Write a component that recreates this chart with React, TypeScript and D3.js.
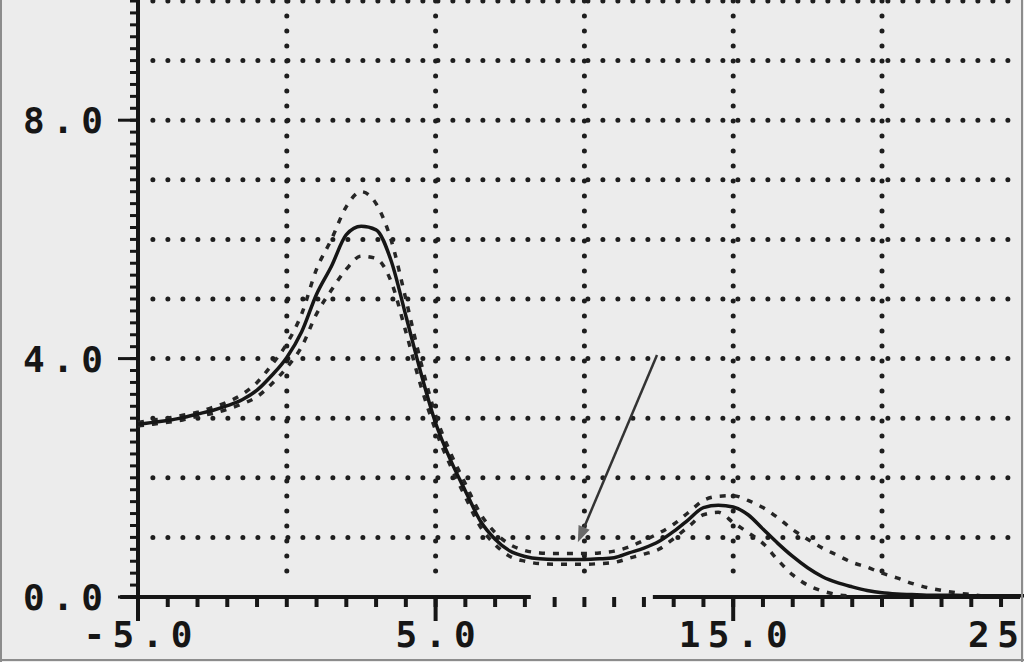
import React, { useEffect, useRef } from 'react';
import * as d3 from 'd3';

// sample positions (x units), every 0.5 from -5 to 25
const xs = d3.range(-5, 25.01, 0.5);

// solid fitted curve
const fitValues = [
  2.90, 2.93, 2.96, 3.01, 3.07, 3.13, 3.21, 3.31, 3.47, 3.72,
  4.02, 4.45, 5.08, 5.55, 6.08, 6.22, 6.16, 5.65, 4.72, 3.77,
  2.92, 2.30, 1.78, 1.28, 0.97, 0.77, 0.68, 0.64, 0.63, 0.63,
  0.63, 0.64, 0.66, 0.74, 0.82, 0.93, 1.10, 1.30, 1.50, 1.54,
  1.51, 1.38, 1.14, 0.90, 0.68, 0.49, 0.34, 0.24, 0.17, 0.11,
  0.07, 0.05, 0.04, 0.03, 0.03, 0.03, 0.02, 0.02, 0.02, 0.02, 0.02,
];

// measured points, upper scatter band (dashes)
const upperValues = [
  2.93, 2.97, 3.00, 3.05, 3.10, 3.18, 3.27, 3.40, 3.60, 3.90,
  4.25, 4.75, 5.50, 6.00, 6.55, 6.80, 6.60, 6.00, 5.00, 3.95,
  3.05, 2.42, 1.90, 1.40, 1.08, 0.88, 0.78, 0.74, 0.73, 0.73,
  0.73, 0.74, 0.77, 0.84, 0.95, 1.07, 1.22, 1.42, 1.62, 1.69,
  1.70, 1.62, 1.50, 1.33, 1.13, 0.97, 0.82, 0.70, 0.58, 0.50,
  0.40, 0.32, 0.23, 0.16, 0.11, 0.07, 0.04, 0.01, null, null, null,
];

// measured points, lower scatter band (dashes)
const lowerValues = [
  2.87, 2.90, 2.93, 2.97, 3.03, 3.08, 3.15, 3.24, 3.36, 3.58,
  3.85, 4.20, 4.75, 5.15, 5.50, 5.72, 5.68, 5.30, 4.45, 3.55,
  2.80, 2.20, 1.68, 1.18, 0.88, 0.68, 0.60, 0.56, 0.55, 0.55,
  0.55, 0.56, 0.58, 0.65, 0.72, 0.80, 0.98, 1.18, 1.38, 1.42,
  1.25, 1.08, 0.90, 0.62, 0.37, 0.20, 0.10, 0.04, 0.01, null,
  null, null, null, null, null, null, null, null, null, null, null,
];

const xTickValues = [-5, 5, 15, 25];
const xTickLabels = ['-5.0', '5.0', '15.0', '25'];
const yTickLabels = [0, 4, 8];
const xGridValues = [0, 5, 10, 15, 20];
const yGridValues = d3.range(1, 11);
// x-axis line is broken in the original print between these values
const xAxisSegments = [[-5.6, 8.2], [12.3, 25]];

// arrow pointing at the valley: [tailX, tailY, tipX, tipY]
const arrow = [12.44, 4.06, 9.78, 0.92];

const W = 1024;
const H = 662;
const INK = '#161616';
const FONT = '"DejaVu Sans Mono", monospace';

export default function App() {
  const svgRef = useRef<SVGSVGElement>(null);

  useEffect(() => {
    const svg = d3.select(svgRef.current);
    svg.selectAll('*').remove();

    const x = d3.scaleLinear().domain([-5, 20]).range([138, 882]);
    const y = d3.scaleLinear().domain([0, 10]).range([597, 1]);

    svg.append('rect').attr('width', W).attr('height', H).attr('fill', '#ececec');

    // dotted grid
    const grid = svg.append('g')
      .attr('stroke', '#1e1e1e')
      .attr('stroke-width', 5)
      .attr('stroke-linecap', 'round')
      .attr('stroke-dasharray', '0,15');
    grid.selectAll('line.h').data(yGridValues).enter().append('line')
      .attr('x1', x(-4.5)).attr('x2', 1020)
      .attr('y1', d => y(d)).attr('y2', d => y(d));
    grid.selectAll('line.v').data(xGridValues).enter().append('line')
      .attr('x1', d => x(d)).attr('x2', d => x(d))
      .attr('y1', y(10)).attr('y2', y(0.2));

    // axes
    const axes = svg.append('g').attr('stroke', INK).attr('fill', 'none');
    axes.append('line')
      .attr('x1', x(-5)).attr('x2', x(-5))
      .attr('y1', 0).attr('y2', 618)
      .attr('stroke-width', 4);
    axes.selectAll('line.seg').data(xAxisSegments).enter().append('line')
      .attr('x1', d => x(d[0])).attr('x2', d => Math.min(x(d[1]), 1020))
      .attr('y1', y(0)).attr('y2', y(0))
      .attr('stroke-width', 4);

    // y ticks
    const yMinor = d3.range(0, 10.01, 0.2);
    axes.selectAll('line.ymin').data(yMinor).enter().append('line')
      .attr('x1', x(-5) - 8).attr('x2', x(-5))
      .attr('y1', d => y(d)).attr('y2', d => y(d))
      .attr('stroke-width', 3);
    axes.selectAll('line.ymaj').data(yTickLabels).enter().append('line')
      .attr('x1', x(-5) - 20).attr('x2', x(-5))
      .attr('y1', d => y(d)).attr('y2', d => y(d))
      .attr('stroke-width', 3);

    // x ticks
    const xMinor = d3.range(-4, 25, 1);
    axes.selectAll('line.xmin').data(xMinor).enter().append('line')
      .attr('x1', d => x(d)).attr('x2', d => x(d))
      .attr('y1', y(0)).attr('y2', y(0) + 10)
      .attr('stroke-width', 4);
    axes.selectAll('line.xmaj').data(xTickValues).enter().append('line')
      .attr('x1', d => x(d)).attr('x2', d => x(d))
      .attr('y1', y(0)).attr('y2', y(0) + 24)
      .attr('stroke-width', 4);

    // tick labels
    const charW = 29;
    svg.selectAll('text.xl').data(xTickValues).enter().append('text')
      .attr('x', (d, i) => (i === 3 ? 1019 : x(d)))
      .attr('y', 647)
      .attr('text-anchor', (_, i) => (i === 3 ? 'end' : 'middle'))
      .attr('textLength', (_, i) => xTickLabels[i].length * charW - 7)
      .attr('lengthAdjust', 'spacing')
      .attr('font-family', FONT)
      .attr('font-weight', 'bold')
      .attr('font-size', 36)
      .attr('fill', INK)
      .text((_, i) => xTickLabels[i]);
    svg.selectAll('text.yl').data(yTickLabels).enter().append('text')
      .attr('x', 103)
      .attr('y', d => y(d) + 13)
      .attr('text-anchor', 'end')
      .attr('textLength', d => d.toFixed(1).length * charW - 7)
      .attr('lengthAdjust', 'spacing')
      .attr('font-family', FONT)
      .attr('font-weight', 'bold')
      .attr('font-size', 36)
      .attr('fill', INK)
      .text(d => d.toFixed(1));

    // data bands (dashes)
    const band = d3.line<number | null>()
      .defined(d => d !== null)
      .x((_, i) => x(xs[i]))
      .y(d => y(d as number))
      .curve(d3.curveMonotoneX);
    [upperValues, lowerValues].forEach(vals => {
      svg.append('path')
        .attr('d', band(vals))
        .attr('fill', 'none')
        .attr('stroke', '#262626')
        .attr('stroke-width', 3.5)
        .attr('stroke-dasharray', '6,8');
    });

    // fitted curve
    const fit = d3.line<number>()
      .x((_, i) => x(xs[i]))
      .y(d => y(d))
      .curve(d3.curveMonotoneX);
    svg.append('path')
      .attr('d', fit(fitValues))
      .attr('fill', 'none')
      .attr('stroke', INK)
      .attr('stroke-width', 3.5);

    // arrow
    const [tx, ty, hx, hy] = arrow;
    const x0 = x(tx), y0 = y(ty), x1 = x(hx), y1 = y(hy);
    const ang = Math.atan2(y1 - y0, x1 - x0);
    const headLen = 16, headW = 6;
    const bx = x1 - headLen * Math.cos(ang), by = y1 - headLen * Math.sin(ang);
    svg.append('line')
      .attr('x1', x0).attr('y1', y0).attr('x2', bx).attr('y2', by)
      .attr('stroke', '#333').attr('stroke-width', 2.5);
    svg.append('polygon')
      .attr('points', [
        [x1, y1],
        [bx + headW * Math.sin(ang), by - headW * Math.cos(ang)],
        [bx - headW * Math.sin(ang), by + headW * Math.cos(ang)],
      ].map(p => p.join(',')).join(' '))
      .attr('fill', '#6a6a6a');

    // scan frame
    const frame = svg.append('g').attr('stroke', '#8c8c8c').attr('stroke-width', 2);
    frame.append('line').attr('x1', 1).attr('x2', 1).attr('y1', 0).attr('y2', H);
    frame.append('line').attr('x1', 1022).attr('x2', 1022).attr('y1', 0).attr('y2', H);
    frame.append('line').attr('x1', 0).attr('x2', W).attr('y1', 660).attr('y2', 660);
  }, []);

  return (
    <svg
      ref={svgRef}
      width={W}
      height={H}
      style={{ position: 'absolute', left: 0, top: 0, display: 'block' }}
    />
  );
}
